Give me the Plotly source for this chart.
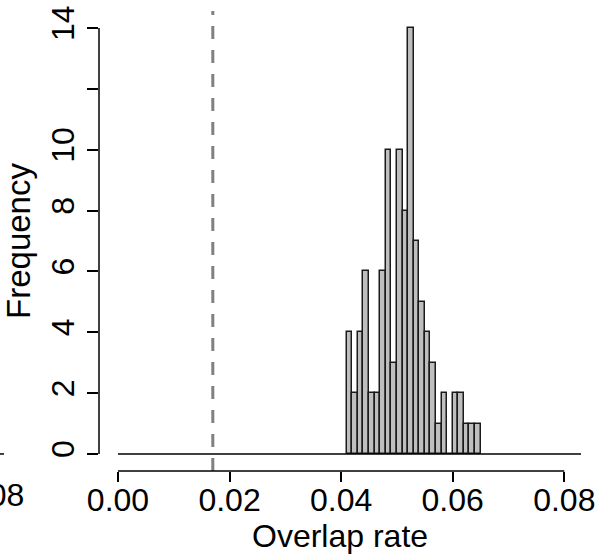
import plotly.graph_objects as go

# ---- data ----
bin_width = 0.001
range_start = 0.0
range_end = 0.083
first_bar_left = 0.041
counts = [4, 2, 4, 6, 2, 2, 6, 10, 3, 10, 8, 14, 7, 5, 4, 3, 1, 2, 0, 2, 2, 1, 1, 1]
observed_rate = 0.017
x_ticks = [0.0, 0.02, 0.04, 0.06, 0.08]
x_tick_labels = ["0.00", "0.02", "0.04", "0.06", "0.08"]
y_ticks = [0, 2, 4, 6, 8, 10, 12, 14]
y_tick_labels = ["0", "2", "4", "6", "8", "10", "", "14"]
x_title = "Overlap rate"
y_title = "Frequency"

centers = [first_bar_left + (i + 0.5) * bin_width for i in range(len(counts))]

FONT = "Liberation Sans, Arial, Helvetica, sans-serif"
PLOT_W = 501
PLOT_H = 460

fig = go.Figure()
fig.add_trace(go.Scatter(x=[range_start, range_end], y=[0, 0], mode="lines",
                         line=dict(color="black", width=1.5), hoverinfo="skip",
                         showlegend=False))
fig.add_trace(go.Bar(x=centers, y=counts, width=bin_width,
                     marker=dict(color="#BEBEBE", line=dict(color="#1a1a1a", width=1.5)),
                     showlegend=False))

# dashed observed line
fig.add_shape(type="line", xref="x", yref="paper", x0=observed_rate, x1=observed_rate,
              y0=0, y1=1, line=dict(color="#808080", width=3, dash="13px,11px"))
# R-style axis lines spanning first to last tick
fig.add_shape(type="line", xref="x", yref="paper", x0=x_ticks[0], x1=x_ticks[-1],
              y0=0, y1=0, line=dict(color="black", width=1.5))
fig.add_shape(type="line", xref="paper", yref="y", x0=0, x1=0,
              y0=y_ticks[0], y1=y_ticks[-1], line=dict(color="black", width=1.5))

# x-axis title (R centres it slightly left of the plotly plot centre)
fig.add_annotation(text=x_title, xref="paper", yref="paper", x=(340 - 99) / PLOT_W,
                   y=(471 - 536) / PLOT_H, xanchor="center", yanchor="middle",
                   showarrow=False, font=dict(family=FONT, size=32, color="black"))

# cropped remnant of neighbouring panel
fig.add_annotation(text="0.08", xref="paper", yref="paper", x=(26 - 99) / PLOT_W,
                   y=(471 - 495) / PLOT_H,
                   xanchor="right", yanchor="middle", showarrow=False,
                   font=dict(family=FONT, size=32, color="black"))
fig.add_shape(type="line", xref="paper", yref="y", x0=-99 / PLOT_W, x1=-95 / PLOT_W,
              y0=0, y1=0, line=dict(color="black", width=1.5))

fig.update_layout(
    width=601, height=556,
    margin=dict(l=99, r=1, t=11, b=85),
    plot_bgcolor="white", paper_bgcolor="white",
    bargap=0,
    font=dict(family=FONT, size=32, color="black"),
    xaxis=dict(range=[-0.0034, 0.0864], tickvals=x_ticks, ticktext=x_tick_labels,
               ticks="outside", ticklen=10, tickwidth=1.5, tickcolor="black",
               ticklabelstandoff=-9,
               showline=False, showgrid=False, zeroline=False,
               tickfont=dict(family=FONT, size=32, color="black")),
    yaxis=dict(range=[-0.56, 14.56], tickvals=y_ticks, ticktext=y_tick_labels,
               ticks="outside", ticklen=11, tickwidth=1.5, tickcolor="black",
               tickangle=-90,
               showline=False, showgrid=False, zeroline=False,
               tickfont=dict(family=FONT, size=32, color="black"),
               title=dict(text=y_title, font=dict(family=FONT, size=33), standoff=5)),
)

fig.write_html("out.html")
